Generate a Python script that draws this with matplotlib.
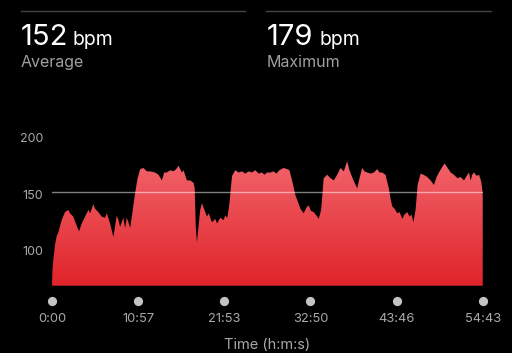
import numpy as np
import matplotlib.pyplot as plt
from matplotlib.colors import LinearSegmentedColormap
from matplotlib.transforms import blended_transform_factory

plt.rcParams['font.family'] = ['Inter', 'DejaVu Sans']

# heart rate trace, minutes vs bpm
minutes = [0.0, 0.06, 0.17, 0.38, 0.6, 0.8, 1.23, 1.65, 2.07, 2.29, 2.71, 3.14, 3.44, 3.78,
           4.2, 4.62, 4.84, 5.26, 5.47, 5.89, 6.32, 6.74, 6.96, 7.38, 7.8, 8.02, 8.23, 8.44,
           8.65, 9.07, 9.29, 9.5, 9.71, 9.93, 10.18, 10.56, 10.88, 11.2, 11.62, 12.05, 12.47,
           13.1, 13.53, 13.96, 14.25, 14.6, 15.02, 15.44, 15.78, 16.07, 16.5, 16.71, 17.14,
           17.56, 17.98, 18.13, 18.26, 18.41, 18.62, 18.83, 19.05, 19.25, 19.69, 19.9, 20.32,
           20.74, 20.96, 21.38, 21.8, 22.01, 22.27, 22.52, 22.87, 23.29, 23.71, 24.14, 24.56,
           24.98, 25.41, 25.83, 26.25, 26.68, 26.98, 27.32, 27.74, 28.16, 28.5, 28.88, 29.43,
           29.87, 30.16, 30.5, 30.92, 31.3, 31.56, 31.98, 32.32, 32.61, 32.9, 33.25, 33.6,
           33.89, 34.19, 34.52, 34.96, 35.38, 35.8, 36.23, 36.65, 37.07, 37.5, 37.79, 38.18,
           38.77, 39.07, 39.41, 39.7, 40.05, 40.47, 40.89, 41.32, 41.61, 41.95, 42.37, 42.79,
           43.01, 43.23, 43.52, 43.86, 44.16, 44.5, 44.79, 45.14, 45.43, 45.68, 45.9, 46.19,
           46.45, 46.83, 47.21, 47.68, 48.1, 48.52, 48.86, 49.16, 49.5, 49.88, 50.26, 50.65,
           51.06, 51.5, 51.92, 52.34, 52.68, 52.97, 53.19, 53.38, 53.61, 53.95, 54.25, 54.53,
           54.68, 54.72]
bpm = [69, 83, 92, 105, 113, 116, 127, 134, 136, 133, 130, 122, 117, 124,
       130, 136, 133, 141, 137, 134, 130, 129, 133, 124, 112, 122, 131, 127,
       121, 129, 120, 129, 125, 120, 132, 151, 164, 172, 173, 170, 170,
       169, 167, 162, 169, 169, 171, 170, 172, 175, 169, 171, 162,
       162, 160, 155, 122, 107, 122, 136, 142, 138, 130, 133, 125,
       128, 124, 129, 127, 131, 129, 140, 166, 171, 169, 170, 168,
       170, 169, 171, 168, 169, 167, 169, 169, 170, 168, 171, 173,
       172, 171, 162, 149, 142, 137, 133, 138, 140, 135, 134, 131,
       128, 136, 164, 167, 164, 162, 167, 173, 170, 179, 171, 164,
       155, 164, 173, 170, 169, 168, 169, 172, 169, 169, 167, 155,
       146, 139, 137, 133, 134, 128, 132, 134, 130, 132, 125, 136,
       158, 168, 167, 165, 162, 158, 165, 169, 173, 177, 173, 169,
       167, 164, 165, 162, 166, 169, 162, 167, 169, 166, 167, 161,
       153, 147]

avg_bpm = 152
max_bpm = 179
y_min = 69
total_min = 54 + 43 / 60
tick_labels = ['0:00', '10:57', '21:53', '32:50', '43:46', '54:43']
ytick_vals = [100, 150, 200]

t = np.array(minutes)
hr = np.array(bpm)

fig = plt.figure(figsize=(5.12, 3.53), dpi=100)
fig.patch.set_facecolor('black')
ax = fig.add_axes([52 / 512, 1 - 285.7 / 353, 430.7 / 512, 148.3 / 353])
ax.set_facecolor('black')
ax.set_xlim(0, total_min)
ax.set_ylim(y_min, 200)

# red fill with vertical gradient
poly = ax.fill_between(t, y_min, hr, color='none', lw=0)
grad = np.linspace(0, 1, 256).reshape(-1, 1)
cmap = LinearSegmentedColormap.from_list('hr', ['#df242a', '#f2636a'])
im = ax.imshow(grad, extent=[0, total_min, y_min, 180], origin='lower', cmap=cmap,
               aspect='auto', zorder=1)
im.set_clip_path(poly.get_paths()[0], ax.transData)

ax.axhline(avg_bpm, color='white', alpha=0.5, lw=1, zorder=3)

for s in ax.spines.values():
    s.set_visible(False)
ax.set_yticks(ytick_vals)
ax.set_yticklabels([str(v) for v in ytick_vals])
ax.tick_params(axis='y', length=0, pad=6.5, labelcolor='#a9a9a9', labelsize=9)
ax.set_xticks([])

tick_pos = np.linspace(0, total_min, len(tick_labels))
trans = blended_transform_factory(ax.transData, ax.transAxes)
ax.scatter(tick_pos, [-0.105] * len(tick_pos), s=44, color='#c4c4c4',
           transform=trans, clip_on=False, zorder=4, lw=0)
for x, lab in zip(tick_pos, tick_labels):
    ax.text(x, -0.225, lab, transform=trans, ha='center', va='center',
            color='#a9a9a9', fontsize=9.3)
ax.text(0.5, -0.40, 'Time (h:m:s)', transform=ax.transAxes, ha='center', va='center',
        color='#a9a9a9', fontsize=10.5)

# header
fig.add_artist(plt.Line2D([20.7 / 512, 245 / 512], [1 - 11 / 353] * 2, color='#444444', lw=1))
fig.add_artist(plt.Line2D([266 / 512, 491 / 512], [1 - 11 / 353] * 2, color='#444444', lw=1))
fig.text(20.7 / 512, 1 - 45 / 353, str(avg_bpm), color='white', fontsize=21, va='baseline')
fig.text(72.7 / 512, 1 - 45 / 353, 'bpm', color='white', fontsize=14, va='baseline')
fig.text(20.7 / 512, 1 - 66.7 / 353, 'Average', color='#a0a0a0', fontsize=11.5, va='baseline')
fig.text(266.7 / 512, 1 - 45 / 353, str(max_bpm), color='white', fontsize=21, va='baseline')
fig.text(319.3 / 512, 1 - 45 / 353, 'bpm', color='white', fontsize=14, va='baseline')
fig.text(266.7 / 512, 1 - 66.7 / 353, 'Maximum', color='#a0a0a0', fontsize=11.5, va='baseline')

fig.savefig('out.png', dpi=100, facecolor='black')
